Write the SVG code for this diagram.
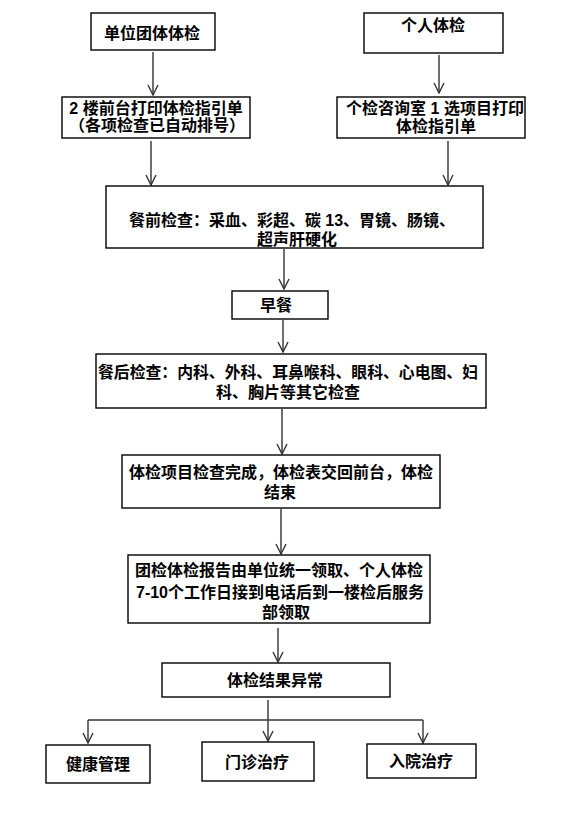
<svg xmlns="http://www.w3.org/2000/svg" width="563" height="813" viewBox="0 0 563 813">
<defs>
<marker id="ah" viewBox="-11 -6 12 12" markerWidth="12" markerHeight="12" refX="0" refY="0" orient="auto" markerUnits="userSpaceOnUse">
<path d="M-10,-5 L0,0 L-10,5" fill="none" stroke="#333" stroke-width="1.4"/>
</marker>
<style>
rect{fill:#fff;stroke:#000;stroke-width:1.4}
text{font-family:"Liberation Sans","Noto Sans CJK SC",sans-serif;font-weight:bold;font-size:16px;fill:#000;text-anchor:middle}
.c line,.c path{stroke:#333;stroke-width:1.4;fill:none}
.c .a{marker-end:url(#ah)}
</style>
</defs>
<rect x="0" y="0" width="563" height="813" style="stroke:none"/>
<g class="c" id="connectors">
<line class="a" x1="153" y1="52" x2="153" y2="95"/>
<line class="a" x1="439" y1="55" x2="439" y2="93"/>
<line class="a" x1="151" y1="141" x2="151" y2="185"/>
<line class="a" x1="448" y1="141" x2="448" y2="185"/>
<line class="a" x1="284" y1="249" x2="284" y2="289"/>
<line class="a" x1="283" y1="320" x2="283" y2="352"/>
<line class="a" x1="282" y1="409" x2="282" y2="454"/>
<line class="a" x1="281" y1="509" x2="281" y2="554"/>
<line class="a" x1="278" y1="628" x2="278" y2="662"/>
<line x1="268" y1="700" x2="268" y2="720"/>
<path d="M88,720 H423"/>
<line class="a" x1="88" y1="720" x2="88" y2="743"/>
<line class="a" x1="268" y1="720" x2="268" y2="741"/>
<line class="a" x1="423" y1="720" x2="423" y2="743"/>
</g>
<g id="n1"><rect x="91" y="13" width="124" height="37"/><text x="152" y="39">单位团体体检</text></g>
<g id="n2"><rect x="364" y="13" width="139" height="40"/><text x="433" y="31">个人体检</text></g>
<g id="n3"><rect x="62" y="97" width="188" height="41"/><text x="156" y="114">2 楼前台打印体检指引单</text><text x="157" y="131">（各项检查已自动排号）</text></g>
<g id="n4"><rect x="337" y="97" width="188" height="41"/><text x="435" y="114">个检咨询室 1 选项目打印</text><text x="436" y="132">体检指引单</text></g>
<g id="n5"><rect x="106" y="186" width="377" height="62"/><text x="292" y="226">餐前检查：采血、彩超、碳 13、胃镜、肠镜、</text><text x="297" y="245">超声肝硬化</text></g>
<g id="n6"><rect x="232" y="291" width="96" height="28"/><text x="276" y="311">早餐</text></g>
<g id="n7"><rect x="96" y="354" width="390" height="54"/><text x="288" y="378" textLength="380" lengthAdjust="spacingAndGlyphs">餐后检查：内科、外科、耳鼻喉科、眼科、心电图、妇</text><text x="288" y="398">科、胸片等其它检查</text></g>
<g id="n8"><rect x="122" y="455" width="318" height="53"/><text x="281" y="478">体检项目检查完成，体检表交回前台，体检</text><text x="280" y="498">结束</text></g>
<g id="n9"><rect x="128" y="555" width="302" height="68"/><text x="279" y="576">团检体检报告由单位统一领取、个人体检</text><text x="280" y="598">7-10个工作日接到电话后到一楼检后服务</text><text x="286" y="618">部领取</text></g>
<g id="n10"><rect x="162" y="663" width="228" height="34"/><text x="275" y="686">体检结果异常</text></g>
<g id="n11"><rect x="46" y="745" width="104" height="38"/><text x="98" y="770">健康管理</text></g>
<g id="n12"><rect x="202" y="742" width="112" height="39"/><text x="257" y="768">门诊治疗</text></g>
<g id="n13"><rect x="367" y="744" width="109" height="34"/><text x="421" y="767">入院治疗</text></g>
</svg>
